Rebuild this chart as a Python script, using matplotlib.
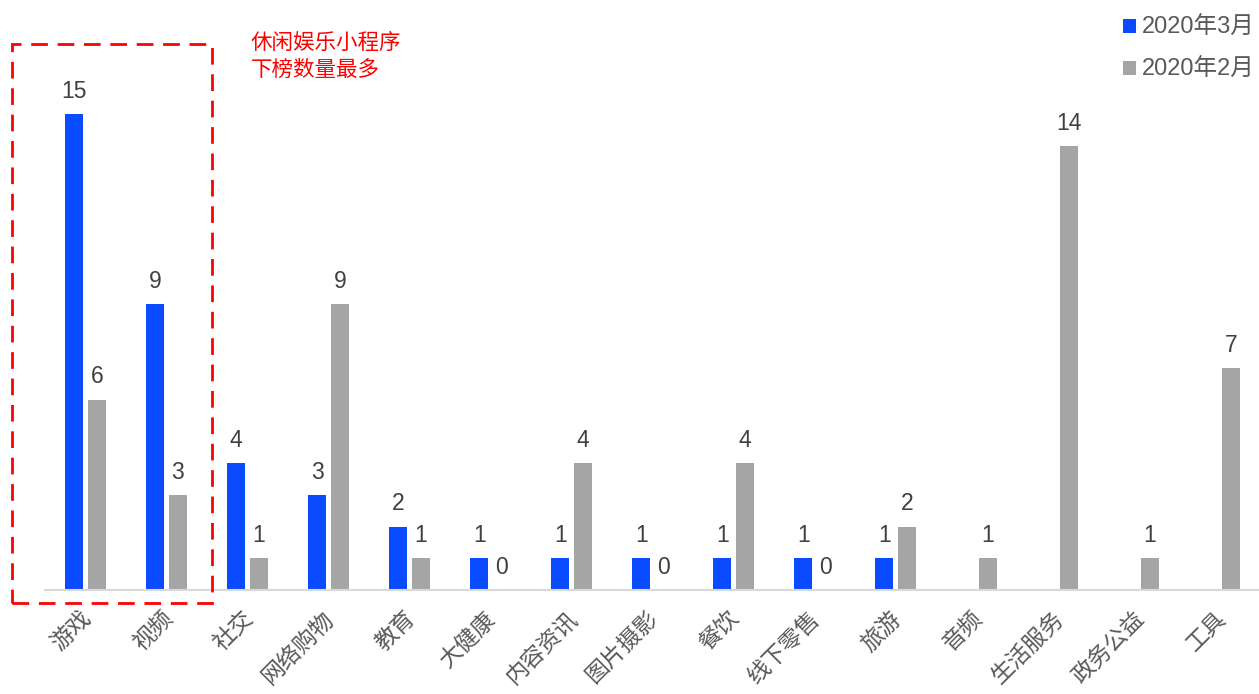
import matplotlib
matplotlib.use("Agg")
import matplotlib.pyplot as plt
import numpy as np
from matplotlib.patches import Rectangle

plt.rcParams['font.family'] = ['Liberation Sans', 'Noto Sans CJK SC', 'DejaVu Sans']

categories = ["游戏", "视频", "社交", "网络购物", "教育", "大健康", "内容资讯", "图片摄影",
              "餐饮", "线下零售", "旅游", "音频", "生活服务", "政务公益", "工具"]
mar_2020 = [15, 9, 4, 3, 2, 1, 1, 1, 1, 1, 1, np.nan, np.nan, np.nan, np.nan]
feb_2020 = [6, 3, 1, 9, 1, 0, 4, 0, 4, 0, 2, 1, 14, 1, 7]
series_names = ["2020年3月", "2020年2月"]
note_text = "休闲娱乐小程序\n下榜数量最多"

W, H = 1259, 694
fig = plt.figure(figsize=(W / 100, H / 100), dpi=100)
px_per_unit = (590 - 114) / 15.0
ax = fig.add_axes([45 / W, (H - 590) / H, 1215 / W, 590 / H])
ax.set_xlim(-0.5, len(categories) - 0.5)
ax.set_ylim(0, 590 / px_per_unit)

x = np.arange(len(categories))
bw = 0.228
off = 0.139
blue = "#0B4BFF"
gray = "#A5A5A5"
b1 = ax.bar(x - off, mar_2020, bw, color=blue, label=series_names[0])
b2 = ax.bar(x + off, feb_2020, bw, color=gray, label=series_names[1])

for xs, vals in ((x - off, mar_2020), (x + off, feb_2020)):
    for xi, v in zip(xs, vals):
        if np.isnan(v):
            continue
        ax.annotate(f"{int(v)}", (xi, v), xytext=(0, 8), textcoords="offset points",
                    ha="center", va="bottom", fontsize=16.5, color="#404040")

for s in ["top", "right", "left"]:
    ax.spines[s].set_visible(False)
ax.spines["bottom"].set_color("#D9D9D9")
ax.spines["bottom"].set_linewidth(1.5)
ax.set_yticks([])
ax.set_xticks(x + 0.03)
ax.set_xticklabels(categories, rotation=45, ha="right", va="center",
                   rotation_mode="anchor", fontsize=16.5, color="#595959")
ax.tick_params(axis="x", length=0, pad=18)

# dashed highlight box (figure pixel coords)
rect = Rectangle((12 / W, (H - 603) / H), 200 / W, 559 / H, transform=fig.transFigure,
                 fill=False, edgecolor="#FF0000", linestyle=(0, (6, 3.5)), linewidth=2,
                 clip_on=False)
fig.patches.append(rect)
fig.text(251 / W, 1 - 33 / H, note_text, color="#FF0000", fontsize=15.5,
         ha="left", va="top", linespacing=1.35)

leg = fig.legend(handles=[b1, b2], loc="upper right", bbox_to_anchor=(1.0 + 10 / W, 1.0 - 3 / H),
                 frameon=False, fontsize=17, labelcolor="#595959",
                 handlelength=0.55, handleheight=0.55, handletextpad=0.25,
                 labelspacing=0.85, borderaxespad=0.2)

fig.savefig("out.png", dpi=100, facecolor="white")
